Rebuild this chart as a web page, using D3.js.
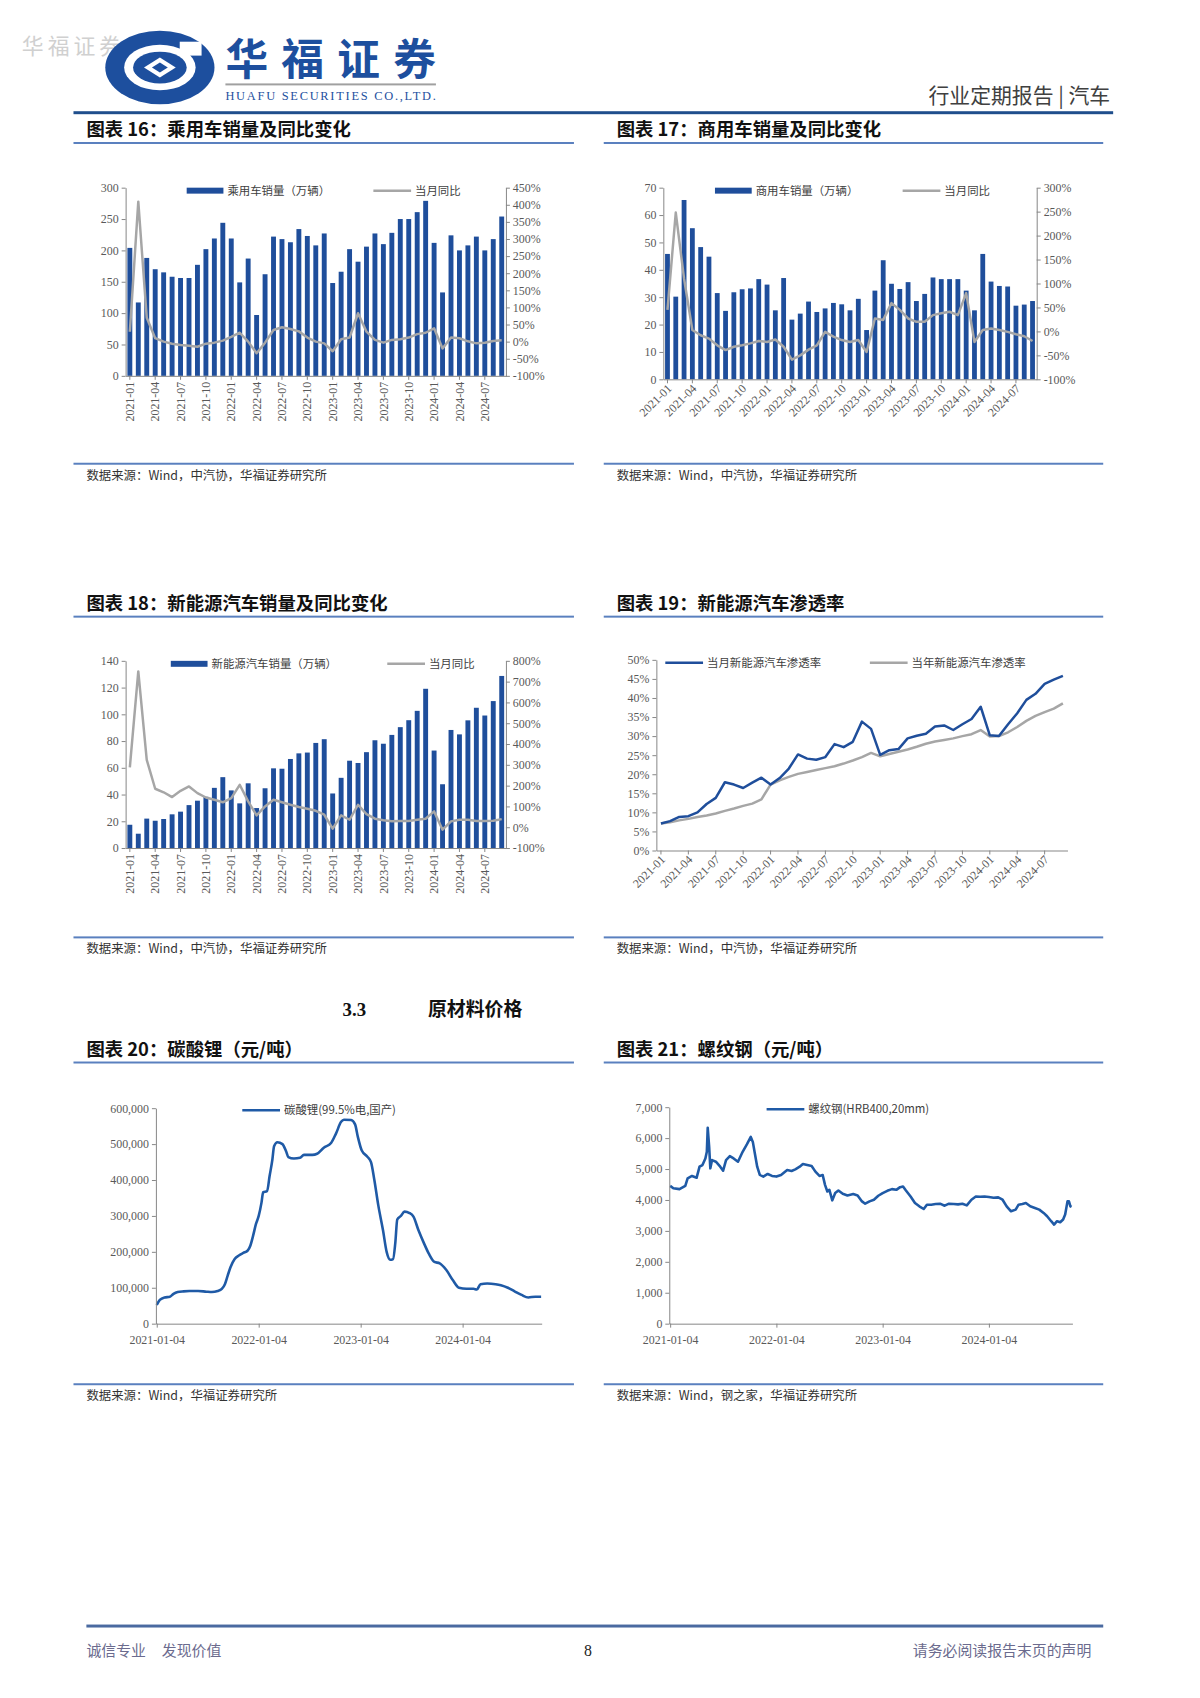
<!DOCTYPE html>
<html>
<head>
<meta charset="utf-8">
<script src="https://cdn.jsdelivr.net/npm/d3@7"></script>
<style>
  body { margin: 0; background: #fff; }
  text { font-family: "Liberation Serif", "Noto Sans CJK SC", serif; }
  .cjk { font-family: "Noto Sans CJK SC", sans-serif; }
</style>
</head>
<body>
<script>
// ---- data ----
var months = d3.timeMonth.range(new Date(2021, 0, 1), new Date(2024, 9, 1)).map(d3.timeFormat("%Y-%m"));
var tickMonths = months.filter(function (m, i) { return i % 3 === 0; });

// passenger vehicles (10k units) and YoY %
var pvSales = [204,117,188,170,165,158,156,156,177,202,219,244,
  219,149,187,97,162,222,218,213,234,223,208,227,
  148,166,202,182,206,227,210,228,250,250,261,279,
  212,133,224,200,208,222,200,218,254];
var pvYoy = [29,409,70,10,0,-6,-10,-12,-15,-6,-3,3,
  14,26,0,-34,-3,34,42,37,30,12,0,-5,
  -28,7,12,83,29,5,-3,5,7,12,22,26,
  39,-20,12,10,1,-5,-3,2,4];

// commercial vehicles
var cvSales = [45.8,30.2,65.5,55.2,48.3,44.8,31.5,25.0,31.8,32.9,33.2,36.6,
  34.6,25.2,37.0,21.8,24.0,28.4,24.6,25.9,27.9,27.4,25.2,29.4,
  18.0,32.4,43.5,34.9,33.0,35.5,28.6,31.2,37.2,36.6,36.6,36.6,
  32.4,25.2,45.8,35.7,34.1,33.9,26.9,27.3,28.6];
var cvYoy = [45,248,110,3,-8,-15,-29,-39,-32,-29,-25,-20,
  -22,-17,-32,-59,-50,-38,-29,-1,-11,-18,-22,-18,
  -43,27,24,59,45,27,20,20,34,38,41,34,
  80,-22,3,6,3,-1,-6,-10,-20];

// new energy vehicles
var nevSales = [17.4,10.7,22,20.4,21.7,25.2,27.2,32.1,35.4,38.3,45,53,
  43.1,33.4,48.4,29.9,44.7,59.6,59.3,66.6,70.8,71.4,78.6,81.4,
  40.8,52.5,65.3,63.6,71.7,80.6,78,84.6,90.4,95.6,102.6,119.1,
  72.9,47.7,88.3,85,95.5,104.9,99.1,109.9,128.7];
var nevYoy = [288,749,324,185,168,145,175,196,164,143,132,120,
  140,204,124,57,100,132,120,108,97,89,79,60,
  -7,57,36,108,63,41,34,29,30,30,36,41,
  76,-12,28,36,36,30,30,31,39];

// NEV penetration %
var penMonth = [7.1,7.7,8.8,9.0,10.0,12.2,13.8,17.9,17.3,16.4,17.8,19.1,
  17.3,19.0,21.5,25.2,24.1,23.8,24.5,27.9,27.1,28.5,33.8,31.9,
  25.1,26.3,26.6,29.4,30.1,30.6,32.5,32.8,31.6,33.1,34.5,37.7,
  30.2,30.0,33.1,36.0,39.5,41.1,43.7,44.8,45.8];
var penYear = [7.1,7.4,7.9,8.3,8.8,9.2,9.7,10.4,11.0,11.7,12.3,13.4,
  17.3,18.4,19.3,20.1,20.6,21.1,21.6,22.1,22.8,23.6,24.5,25.6,
  24.7,25.3,25.9,26.5,27.2,28.0,28.6,29.0,29.4,30.0,30.5,31.6,
  29.9,30.0,31.0,32.4,34.0,35.3,36.3,37.2,38.6];

// lithium carbonate price (yuan/t)
var liPrice = [["2021-01-04",52000],["2021-01-15",66000],["2021-02-01",73000],["2021-02-20",75000],
  ["2021-03-05",83000],["2021-03-20",88000],["2021-04-10",90000],["2021-05-01",91000],["2021-06-01",91000],
  ["2021-07-01",89000],["2021-07-20",88000],["2021-08-10",91000],["2021-08-25",97000],["2021-09-05",110000],
  ["2021-09-15",134000],["2021-09-25",157000],["2021-10-10",180000],["2021-10-25",190000],["2021-11-10",197000],
  ["2021-11-25",203000],["2021-12-05",217000],["2021-12-15",245000],["2021-12-25",277000],["2022-01-04",300000],
  ["2022-01-14",337000],["2022-01-20",366000],["2022-02-03",369000],["2022-02-12",411000],["2022-02-22",457000],
  ["2022-02-28",494000],["2022-03-12",505000],["2022-03-30",500000],["2022-04-12",480000],["2022-04-20",464000],
  ["2022-05-10",460000],["2022-06-01",462000],["2022-06-15",470000],["2022-07-15",470000],["2022-08-01",473000],
  ["2022-08-25",490000],["2022-09-20",503000],["2022-10-08",530000],["2022-10-26",562000],["2022-11-05",568000],
  ["2022-12-01",567000],["2022-12-15",555000],["2022-12-25",520000],["2023-01-08",482000],["2023-01-28",465000],
  ["2023-02-10",450000],["2023-02-22",400000],["2023-03-08",330000],["2023-03-25",260000],["2023-04-07",200000],
  ["2023-04-20",178000],["2023-04-30",180000],["2023-05-08",225000],["2023-05-15",290000],["2023-05-28",300000],
  ["2023-06-10",312000],["2023-06-28",308000],["2023-07-12",298000],["2023-07-30",260000],["2023-08-18",225000],
  ["2023-09-05",195000],["2023-09-25",172000],["2023-10-14",168000],["2023-11-06",150000],["2023-12-01",120000],
  ["2023-12-22",100000],["2024-01-18",97000],["2024-02-12",97000],["2024-02-24",95000],["2024-03-08",110000],
  ["2024-04-01",112000],["2024-05-01",110000],["2024-05-20",107000],["2024-06-14",100000],["2024-07-08",90000],
  ["2024-08-02",80000],["2024-08-26",73000],["2024-09-20",75000],["2024-10-11",75000]];

// rebar HRB400 20mm (yuan/t)
var rebarPrice = [["2021-01-04",4456],["2021-01-15",4380],["2021-02-05",4350],["2021-02-25",4456],
  ["2021-03-05",4700],["2021-03-20",4777],["2021-04-05",4720],["2021-04-15",5076],["2021-04-25",5130],
  ["2021-05-05",5343],["2021-05-10",5557],["2021-05-13",6337],["2021-05-18",5717],["2021-05-22",5023],
  ["2021-05-28",5290],["2021-06-10",5237],["2021-06-25",5076],["2021-07-05",4948],["2021-07-15",5290],
  ["2021-07-28",5418],["2021-08-10",5343],["2021-08-25",5237],["2021-09-10",5557],["2021-09-25",5803],
  ["2021-10-08",6038],["2021-10-15",5878],["2021-10-22",5504],["2021-10-30",5076],["2021-11-08",4809],
  ["2021-11-20",4756],["2021-12-05",4841],["2021-12-20",4777],["2022-01-04",4756],["2022-01-20",4809],
  ["2022-02-10",4969],["2022-02-25",4938],["2022-03-10",4991],["2022-03-25",5076],["2022-04-05",5162],
  ["2022-04-20",5130],["2022-05-05",5098],["2022-05-18",4916],["2022-06-01",4777],["2022-06-12",4809],
  ["2022-06-20",4489],["2022-06-28",4275],["2022-07-05",4328],["2022-07-15",3987],["2022-07-25",4222],
  ["2022-08-05",4307],["2022-08-20",4200],["2022-09-05",4147],["2022-09-25",4190],["2022-10-10",4147],
  ["2022-10-25",3954],["2022-11-05",3880],["2022-11-20",3954],["2022-12-05",4008],["2022-12-20",4136],
  ["2023-01-04",4222],["2023-01-20",4296],["2023-02-05",4350],["2023-02-20",4328],["2023-03-05",4414],
  ["2023-03-15",4436],["2023-03-25",4307],["2023-04-10",4110],["2023-04-25",3901],["2023-05-10",3794],
  ["2023-05-25",3708],["2023-06-05",3848],["2023-06-20",3848],["2023-07-05",3869],["2023-07-20",3880],
  ["2023-08-05",3815],["2023-08-20",3880],["2023-09-05",3869],["2023-09-20",3858],["2023-10-05",3880],
  ["2023-10-20",3826],["2023-11-05",4008],["2023-11-20",4110],["2023-12-05",4104],["2023-12-20",4110],
  ["2024-01-04",4093],["2024-01-20",4072],["2024-02-05",4083],["2024-02-20",4008],["2024-03-05",3794],
  ["2024-03-20",3634],["2024-04-05",3688],["2024-04-15",3848],["2024-04-28",3869],["2024-05-10",3901],
  ["2024-05-25",3794],["2024-06-10",3741],["2024-06-25",3688],["2024-07-10",3581],["2024-07-22",3473],
  ["2024-08-05",3313],["2024-08-15",3206],["2024-08-25",3313],["2024-09-05",3280],["2024-09-15",3366],
  ["2024-09-22",3527],["2024-09-30",3954],["2024-10-05",3954],["2024-10-10",3794],["2024-10-14",3773]];

var yearTicks = ["2021-01-04", "2022-01-04", "2023-01-04", "2024-01-04"];

// ---- page ----
var BLUE = "#1f4e9b", GRAY = "#a6a6a6", AXIS = "#868686", TICKTXT = "#595959";
var parse = d3.timeParse("%Y-%m-%d");

var root = d3.select("body").append("svg")
  .attr("width", 1200)
  .attr("height", 1698);
var svg = root.append("g").attr("transform", "scale(0.993)");

// header
svg.append("text").attr("class", "cjk").attr("x", 22).attr("y", 54)
  .style("font-size", "22px").style("fill", "#d0d0d0").attr("textLength", 100).text("华福证券");

var logo = svg.append("g").attr("transform", "translate(161,68)");
logo.append("ellipse").attr("rx", 55).attr("ry", 37).attr("fill", "#1d4f9e");
logo.append("ellipse").attr("rx", 36).attr("ry", 23).attr("fill", "#fff");
logo.append("ellipse").attr("rx", 27).attr("ry", 16).attr("fill", "#1d4f9e");
logo.append("path").attr("d", "M-16,0 L0,-10 L16,0 L0,10 Z").attr("fill", "#fff");
logo.append("path").attr("d", "M-8,0 L0,-5 L8,0 L0,5 Z").attr("fill", "#1d4f9e");
logo.append("rect").attr("x", 20).attr("y", -26).attr("width", 22).attr("height", 14).attr("fill", "#fff");

svg.append("text").attr("class", "cjk").attr("x", 227).attr("y", 76)
  .style("font-size", "43px").style("font-weight", 700).style("fill", "#1d4f9e")
  .attr("textLength", 212).text("华福证券");
svg.append("rect").attr("x", 227).attr("y", 84).attr("width", 212).attr("height", 2).attr("fill", "#a0a0a0");
svg.append("text").attr("x", 227).attr("y", 101)
  .style("font-size", "12.5px").style("fill", "#1d4f9e")
  .attr("textLength", 212).text("HUAFU SECURITIES CO.,LTD.");

svg.append("text").attr("class", "cjk").attr("x", 1118).attr("y", 104)
  .attr("text-anchor", "end").style("font-size", "21px").style("fill", "#404040")
  .style("white-space", "pre").text("行业定期报告 | 汽车");
svg.append("rect").attr("x", 74).attr("y", 112).attr("width", 1047).attr("height", 3).attr("fill", "#1f4e8c");

// titles, rules, sources
function block(x0, x1, titleY, title, srcY, src) {
  svg.append("text").attr("class", "cjk").attr("x", x0 + 13).attr("y", titleY)
    .style("font-size", "18.5px").style("font-weight", 700).style("fill", "#111").text(title);
  svg.append("rect").attr("x", x0).attr("y", titleY + 6).attr("width", x1 - x0).attr("height", 2).attr("fill", "#5a80bf");
  svg.append("rect").attr("x", x0).attr("y", srcY).attr("width", x1 - x0).attr("height", 2).attr("fill", "#5a80bf");
  svg.append("text").attr("class", "cjk").attr("x", x0 + 13).attr("y", srcY + 17)
    .style("font-size", "12.5px").style("fill", "#333").text(src);
}
block(74, 578, 137, "图表 16：乘用车销量及同比变化", 466, "数据来源：Wind，中汽协，华福证券研究所");
block(608, 1111, 137, "图表 17：商用车销量及同比变化", 466, "数据来源：Wind，中汽协，华福证券研究所");
block(74, 578, 614, "图表 18：新能源汽车销量及同比变化", 943, "数据来源：Wind，中汽协，华福证券研究所");
block(608, 1111, 614, "图表 19：新能源汽车渗透率", 943, "数据来源：Wind，中汽协，华福证券研究所");
block(74, 578, 1063, "图表 20：碳酸锂（元/吨）", 1393, "数据来源：Wind，华福证券研究所");
block(608, 1111, 1063, "图表 21：螺纹钢（元/吨）", 1393, "数据来源：Wind，钢之家，华福证券研究所");

svg.append("text").attr("x", 345).attr("y", 1023)
  .style("font-size", "19px").style("font-weight", 700).style("fill", "#111").text("3.3");
svg.append("text").attr("class", "cjk").attr("x", 431).attr("y", 1023)
  .style("font-size", "19px").style("font-weight", 700).style("fill", "#111").text("原材料价格");

// footer
svg.append("rect").attr("x", 87).attr("y", 1636).attr("width", 1024).attr("height", 3).attr("fill", "#4a6aa0");
svg.append("text").attr("class", "cjk").attr("x", 87).attr("y", 1668)
  .style("font-size", "15px").style("fill", "#6b6b8e").text("诚信专业");
svg.append("text").attr("class", "cjk").attr("x", 163).attr("y", 1668)
  .style("font-size", "15px").style("fill", "#6b6b8e").text("发现价值");
svg.append("text").attr("x", 592).attr("y", 1668).attr("text-anchor", "middle")
  .style("font-size", "16px").style("fill", "#222").text("8");
svg.append("text").attr("class", "cjk").attr("x", 1099).attr("y", 1668).attr("text-anchor", "end")
  .style("font-size", "15px").style("fill", "#6b6b8e").text("请务必阅读报告末页的声明");

// ---- chart helpers ----
function styleAxis(g) {
  g.selectAll("path, line").attr("stroke", AXIS);
  g.selectAll("text").style("font-size", "12px").style("fill", TICKTXT)
    .style("font-family", "'Liberation Serif', serif");
}

function legendBar(g, x, y, label) {
  g.append("rect").attr("x", x).attr("y", y - 3).attr("width", 37).attr("height", 6).attr("fill", BLUE);
  g.append("text").attr("class", "cjk").attr("x", x + 41).attr("y", y + 4)
    .style("font-size", "11.5px").style("fill", "#404040").text(label);
}
function legendLine(g, x, y, label, color) {
  g.append("line").attr("x1", x).attr("x2", x + 38).attr("y1", y).attr("y2", y)
    .attr("stroke", color).attr("stroke-width", 2.5);
  g.append("text").attr("class", "cjk").attr("x", x + 42).attr("y", y + 4)
    .style("font-size", "11.5px").style("fill", "#404040").text(label);
}

function monthAxis(g, x, bottom, rot) {
  var ax = g.append("g").attr("transform", "translate(0," + bottom + ")")
    .call(d3.axisBottom(x).tickValues(tickMonths).tickSize(4).tickSizeOuter(0));
  styleAxis(ax);
  if (rot === -90) {
    ax.selectAll("text").attr("y", 0).attr("x", -6).attr("dy", "0.35em")
      .attr("transform", "rotate(-90)").style("text-anchor", "end");
  } else {
    ax.selectAll("text").attr("y", 0).attr("x", 0).attr("dy", "0.35em")
      .attr("transform", "translate(2,7) rotate(-45)").style("text-anchor", "end");
  }
}

function comboChart(c) {
  var g = svg.append("g");
  var x = d3.scaleBand().domain(months).range([c.left, c.right]).paddingInner(0.42).paddingOuter(0.21);
  var yl = d3.scaleLinear().domain([0, c.yMax]).range([c.bottom, c.top]);
  var yr = d3.scaleLinear().domain([c.rMin, c.rMax]).range([c.bottom, c.top]);

  g.selectAll("rect.bar").data(c.bars).enter().append("rect")
    .attr("x", function (d, i) { return x(months[i]); })
    .attr("y", function (d) { return yl(d); })
    .attr("width", x.bandwidth())
    .attr("height", function (d) { return c.bottom - yl(d); })
    .attr("fill", BLUE);

  var line = d3.line()
    .x(function (d, i) { return x(months[i]) + x.bandwidth() / 2; })
    .y(function (d) { return yr(d); });
  g.append("path").datum(c.line).attr("d", line)
    .attr("fill", "none").attr("stroke", GRAY).attr("stroke-width", 2.5).attr("stroke-linejoin", "round");

  var la = g.append("g").attr("transform", "translate(" + c.left + ",0)")
    .call(d3.axisLeft(yl).tickValues(d3.range(0, c.yMax + 1, c.yStep)).tickSize(4).tickSizeOuter(0));
  styleAxis(la);
  var ra = g.append("g").attr("transform", "translate(" + c.right + ",0)")
    .call(d3.axisRight(yr).tickValues(d3.range(c.rMin, c.rMax + 1, c.rStep)).tickSize(4).tickSizeOuter(0)
      .tickFormat(function (d) { return d + "%"; }));
  styleAxis(ra);
  monthAxis(g, x, c.bottom, c.rot);

  legendBar(g, c.legBar, c.top + 3, c.barName);
  legendLine(g, c.legLine, c.top + 3, "当月同比", GRAY);
}

comboChart({ left: 126.5, right: 509.5, top: 189, bottom: 378.5, bars: pvSales, line: pvYoy,
  yMax: 300, yStep: 50, rMin: -100, rMax: 450, rStep: 50, rot: -90,
  legBar: 188, legLine: 376, barName: "乘用车销量（万辆）" });
comboChart({ left: 668, right: 1044, top: 189, bottom: 382, bars: cvSales, line: cvYoy,
  yMax: 70, yStep: 10, rMin: -100, rMax: 300, rStep: 50, rot: -45,
  legBar: 720, legLine: 909, barName: "商用车销量（万辆）" });
comboChart({ left: 126.5, right: 509.5, top: 665.5, bottom: 854, bars: nevSales, line: nevYoy,
  yMax: 140, yStep: 20, rMin: -100, rMax: 800, rStep: 100, rot: -90,
  legBar: 172, legLine: 390, barName: "新能源汽车销量（万辆）" });

// penetration chart
(function () {
  var left = 661, right = 1075, top = 664.5, bottom = 856.5;
  var g = svg.append("g");
  var x = d3.scaleBand().domain(months).range([left, right]);
  var y = d3.scaleLinear().domain([0, 50]).range([bottom, top]);
  var line = d3.line()
    .x(function (d, i) { return x(months[i]) + x.bandwidth() / 2; })
    .y(function (d) { return y(d); });
  g.append("path").datum(penYear).attr("d", line)
    .attr("fill", "none").attr("stroke", GRAY).attr("stroke-width", 2.5).attr("stroke-linejoin", "round");
  g.append("path").datum(penMonth).attr("d", line)
    .attr("fill", "none").attr("stroke", BLUE).attr("stroke-width", 2.5).attr("stroke-linejoin", "round");
  var la = g.append("g").attr("transform", "translate(" + left + ",0)")
    .call(d3.axisLeft(y).tickValues(d3.range(0, 51, 5)).tickSize(4).tickSizeOuter(0)
      .tickFormat(function (d) { return d + "%"; }));
  styleAxis(la);
  monthAxis(g, x, bottom, -45);
  legendLine(g, 670, top + 3, "当月新能源汽车渗透率", BLUE);
  legendLine(g, 876, top + 3, "当年新能源汽车渗透率", GRAY);
})();

function priceChart(c) {
  var g = svg.append("g");
  var x = d3.scaleTime().domain([parse("2021-01-01"), parse(c.end)]).range([c.left, c.right]);
  var y = d3.scaleLinear().domain([0, c.yMax]).range([c.bottom, c.top]);
  var line = d3.line()
    .x(function (d) { return x(parse(d[0])); })
    .y(function (d) { return y(d[1]); })
    .curve(c.curve);
  g.append("path").datum(c.data).attr("d", line)
    .attr("fill", "none").attr("stroke", "#1f5aa6").attr("stroke-width", 2.6).attr("stroke-linejoin", "round");
  var la = g.append("g").attr("transform", "translate(" + c.left + ",0)")
    .call(d3.axisLeft(y).tickValues(d3.range(0, c.yMax + 1, c.yStep)).tickSize(4).tickSizeOuter(0)
      .tickFormat(d3.format(",")));
  styleAxis(la);
  var ba = g.append("g").attr("transform", "translate(0," + c.bottom + ")")
    .call(d3.axisBottom(x).tickValues(yearTicks.map(parse)).tickSize(4).tickSizeOuter(0)
      .tickFormat(d3.timeFormat("%Y-%m-%d")));
  styleAxis(ba);
  ba.selectAll("text").attr("dy", "1.1em");
  legendLine(g, c.legX, c.top + 2, c.name, "#1f5aa6");
}

priceChart({ left: 157, right: 545.5, top: 1116, bottom: 1333, data: liPrice, yMax: 600000, yStep: 100000,
  end: "2024-10-13", curve: d3.curveMonotoneX, legX: 244, name: "碳酸锂(99.5%电,国产)" });
priceChart({ left: 674, right: 1080, top: 1115, bottom: 1333, data: rebarPrice, yMax: 7000, yStep: 1000,
  end: "2024-10-17", curve: d3.curveLinear, legX: 772, name: "螺纹钢(HRB400,20mm)" });
</script>
</body>
</html>
